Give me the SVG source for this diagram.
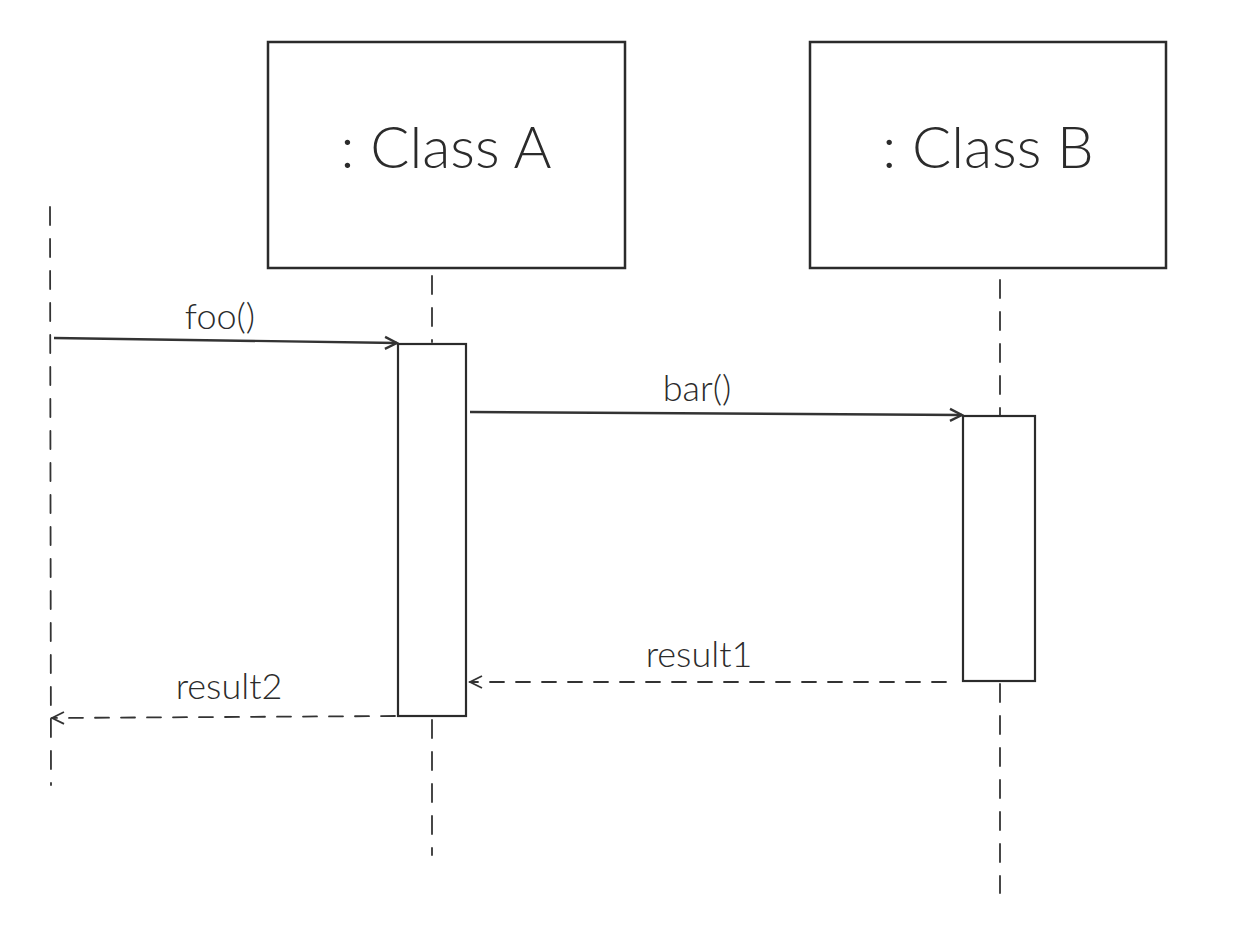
<svg xmlns="http://www.w3.org/2000/svg" width="1240" height="926" viewBox="0 0 1240 926">
<style>
.box{fill:#fff;stroke:#2b2b2b;stroke-width:2.5}
.act{fill:#fff;stroke:#2b2b2b;stroke-width:2.2}
.life{fill:none;stroke:#333;stroke-width:1.8;stroke-dasharray:18 14;stroke-linecap:round}
.msg{fill:none;stroke:#333;stroke-width:2.4}
.ret{fill:none;stroke:#333;stroke-width:1.8;stroke-dasharray:14 12;stroke-linecap:round}
.title{font-family:Lato,"Open Sans",sans-serif;font-weight:300;font-size:58px;fill:#2b2b2b}
.lbl{font-family:Lato,"Open Sans",sans-serif;font-weight:300;font-size:36px;fill:#2b2b2b}
</style>
<defs>
<marker id="arr" markerWidth="16" markerHeight="16" refX="14" refY="8" orient="auto" markerUnits="userSpaceOnUse">
<path d="M2,2 L14,8 L2,14" fill="none" stroke="#333" stroke-width="2.4"/>
</marker>
<marker id="open" markerWidth="16" markerHeight="16" refX="14" refY="8" orient="auto" markerUnits="userSpaceOnUse">
<path d="M2,2 L14,8 L2,14" fill="none" stroke="#333" stroke-width="1.8"/>
</marker>
</defs>
<rect width="1240" height="926" fill="#fff"/>
<g id="lifelines">
<line class="life" x1="50" y1="207" x2="51" y2="785"/>
<line class="life" x1="432" y1="276" x2="432" y2="342"/>
<line class="life" x1="432" y1="720" x2="432" y2="855"/>
<line class="life" x1="1000" y1="280" x2="1000" y2="415"/>
<line class="life" x1="1000" y1="684" x2="1000" y2="893"/>
</g>
<g id="classA">
<rect class="box" x="268" y="42" width="357" height="226"/>
<text class="title" x="446" y="168" text-anchor="middle">: Class A</text>
</g>
<g id="classB">
<rect class="box" x="810" y="42" width="356" height="226"/>
<text class="title" x="988" y="168" text-anchor="middle">: Class B</text>
</g>
<g id="activationA">
<rect class="act" x="398" y="344" width="68" height="372"/>
</g>
<g id="activationB">
<rect class="act" x="963" y="416" width="72" height="265"/>
</g>
<g id="connectors">
<line class="msg" x1="54" y1="338" x2="397" y2="343" marker-end="url(#arr)"/>
<line class="msg" x1="470" y1="412" x2="962" y2="415" marker-end="url(#arr)"/>
<line class="ret" x1="946" y1="682" x2="470" y2="682" marker-end="url(#open)"/>
<line class="ret" x1="395" y1="716" x2="52" y2="718" marker-end="url(#open)"/>
</g>
<g id="labels">
<text class="lbl" x="220" y="329" text-anchor="middle">foo()</text>
<text class="lbl" x="697" y="401" text-anchor="middle">bar()</text>
<text class="lbl" x="699" y="667" text-anchor="middle">result1</text>
<text class="lbl" x="229" y="699" text-anchor="middle">result2</text>
</g>
</svg>
